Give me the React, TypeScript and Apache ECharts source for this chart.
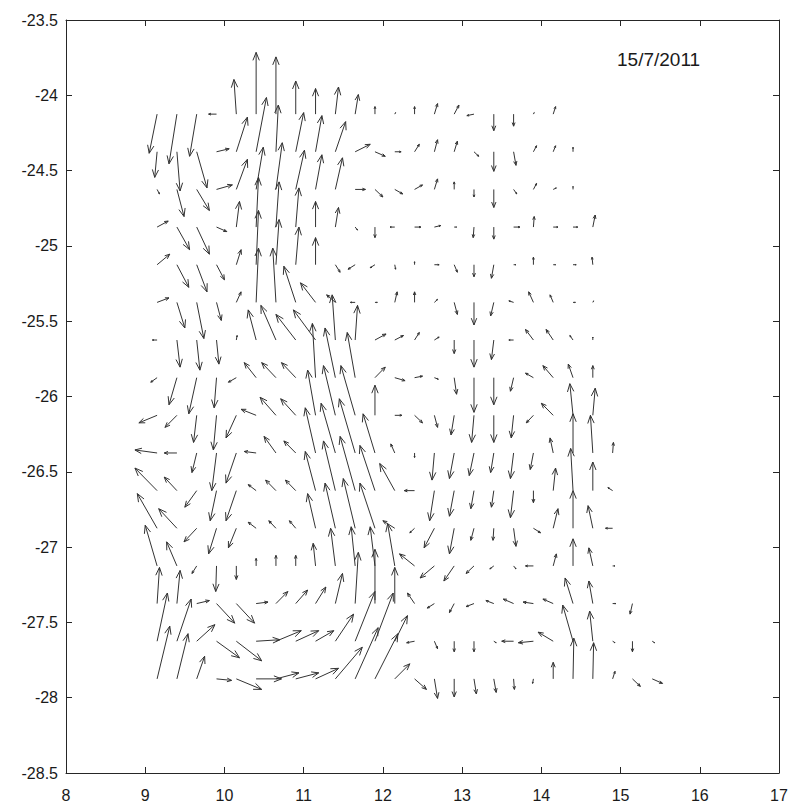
import React, { useEffect, useRef } from "react";
import * as echarts from "echarts";

// Grid of vector positions
const LON = [9.15, 9.4, 9.65, 9.9, 10.15, 10.4, 10.65, 10.9, 11.15, 11.4, 11.65, 11.9, 12.15, 12.4, 12.65, 12.9, 13.15, 13.4, 13.65, 13.9, 14.15, 14.4, 14.65, 14.9, 15.15, 15.4];
const LAT = [-24.125, -24.375, -24.625, -24.875, -25.125, -25.375, -25.625, -25.875, -26.125, -26.375, -26.625, -26.875, -27.125, -27.375, -27.625, -27.875];

// Eastward velocity component (cm/s), one row per latitude
const U_ROWS: (number | null)[][] = [
  [-10, -10, -9, -10, -3, 0, 0, 0, 0, 4, 4, 0, 1, 0, 4, 6, -9, 0, 0, 1, 3],
  [-3, 4, 13, 16, 14, 13, 3, 10, 8, 13, 19, 13, 8, 6, 4, 4, 6, 0, 3, 4, 3, 0],
  [3, 9, 16, 20, 14, 9, 8, 11, 8, 9, 13, 10, 10, 10, 4, 0, 0, 0, 4, 4, 4, 0],
  [14, 16, 16, 13, 4, 3, 4, 4, 0, 4, 3, 0, -6, 8, 8, 3, -1, 0, 8, 1, 6, 6, 3],
  [16, 15, 13, 10, 6, 3, 4, 4, 0, 6, -9, -6, 1, 0, 6, 4, 0, -3, 3, 0, 3, 4, -1],
  [15, 10, 9, 6, 6, 3, -4, -15, -19, -11, -6, 3, 3, 0, 4, 4, 0, -4, -6, -6, -4, 3, 1],
  [-6, 4, 4, 3, 1, -10, -19, -25, -28, -4, 3, 14, 11, 6, 6, 0, 0, -3, -6, -10, -9, -4, 0],
  [-8, -10, -10, -3, -10, -15, -18, -18, -4, -13, -10, 13, 13, 10, 5, 3, 0, 0, -4, -10, -13, -6, 0],
  [-23, -15, -4, -4, -13, -19, -20, -19, -10, -15, -18, 0, 9, 10, 4, -4, -3, 0, -3, -9, -15, -4, 3],
  [-28, -16, -6, -6, -13, -15, -15, -15, -13, -18, -20, -15, -5, 0, -3, -6, -6, -4, -4, -4, -4, 0, -3, 1],
  [-28, -16, -15, -8, -13, -10, -13, -13, -13, -15, -19, -19, -19, -13, -6, -6, -4, -3, -4, 0, 3, -3, 0, -6],
  [-25, -23, -16, -10, -10, -10, -9, -8, -10, -13, -15, -19, -15, -6, -13, -6, -4, -1, 3, 9, 6, 0, -6, -9],
  [-15, -13, -6, -1, 0, 0, 0, 0, -3, -6, -5, -6, -9, -19, -18, -13, -10, -5, 3, -10, 4, 0, -5, 3],
  [3, 4, 16, 23, 23, 15, 15, 15, 13, 9, 4, 0, 0, -9, -9, -6, -10, -10, -13, -13, -13, -10, -5, 4, -3],
  [13, 18, 23, 29, 32, 30, 32, 29, 23, 23, 25, 23, 16, -10, 4, 0, 0, 3, -15, -19, -19, -13, -4, 3, 0, 3],
  [16, 14, 10, 19, 32, 32, 29, 29, 29, 34, 29, 29, 19, 15, 4, 0, 3, 3, 1, -1, 0, 1, 1, 3, 10, 13],
];

// Northward velocity component (cm/s)
const V_ROWS: (number | null)[][] = [
  [-26, -33, -28, 0, 23, 41, 38, 22, 17, 18, 13, 5, 1, 5, 7, 6, -1, -11, -8, 1, 5],
  [-17, -26, -24, 2, 23, 36, 31, 26, 24, 20, 5, -3, 0, 5, 8, 7, -3, -13, -9, 4, 4, 3],
  [-3, -18, -14, 3, 20, 28, 31, 26, 23, 21, 0, -5, -3, 3, 7, 5, -5, -12, -3, 4, 1, 2],
  [4, -15, -18, -3, 17, 33, 30, 26, 17, 13, -2, -7, 0, 0, 1, 0, -7, -8, 0, 7, 0, 0, 8],
  [7, -15, -18, -10, 10, 36, 30, 25, 18, -5, -3, -2, -3, 2, 0, -5, -8, -9, 0, 5, 0, 0, 5],
  [3, -17, -24, -12, 7, 36, 36, 24, 13, 5, 0, 0, 7, 7, 2, -8, -15, -9, 1, 7, 5, 0, 1],
  [0, -18, -20, -16, 3, 20, 23, 17, 20, 30, 23, 4, 3, 5, 2, -9, -18, -13, 0, 7, 7, 3, 2],
  [-3, -18, -24, -20, -3, 10, 10, 10, 36, 33, 30, 7, -2, 1, -1, -11, -23, -18, -9, 3, 8, 9, 8],
  [-5, -8, -18, -23, -15, 4, 12, 11, 30, 33, 33, 20, 0, -5, -8, -13, -18, -18, -15, -5, 8, 21, 18],
  [2, 0, -13, -25, -20, 1, 11, 8, 30, 33, 36, 26, 6, -3, -18, -17, -15, -13, -17, -11, 10, 26, 25, 7],
  [15, 9, -11, -20, -20, 4, 7, 7, 26, 33, 36, 30, 18, 0, -20, -17, -12, -11, -18, -8, 15, 28, 19, 2],
  [23, 13, -9, -17, -13, 4, 5, 5, 23, 30, 33, 30, 5, -3, -13, -17, -8, -8, -12, -3, 13, 25, 15, 0],
  [27, 16, -5, -17, -9, 5, 7, 7, 15, 25, 26, 26, 28, 8, -8, -10, -5, -2, -2, 0, 8, 18, 12, 0],
  [24, 22, 2, -13, -13, 1, 8, 9, 11, 20, 34, 36, 24, 7, -3, -6, -2, 2, 3, 1, 3, 17, 15, 0, -7],
  [32, 28, 11, -11, -13, 1, 7, 7, 7, 18, 33, 32, 17, -1, -5, -7, -7, -1, 0, -1, 6, 24, 20, -1, -7, -1],
  [35, 30, 15, -1, -7, 0, 4, 4, 7, 21, 34, 30, 10, -7, -13, -12, -10, -9, -7, -3, 11, 27, 24, 5, -5, -3],
];

// Degrees of arrow length per cm/s
const SCALE = 0.01;

const X_TICKS = [8, 9, 10, 11, 12, 13, 14, 15, 16, 17];
const Y_RANGE = [-28.5, -23.5];
const DATE_LABEL = "15/7/2011";

function buildData() {
  const out: number[][] = [];
  for (let j = 0; j < LAT.length; j++) {
    for (let i = 0; i < LON.length; i++) {
      const u = U_ROWS[j][i];
      const v = V_ROWS[j][i];
      if (u == null || v == null) continue;
      out.push([LON[i], LAT[j], u, v]);
    }
  }
  return out;
}

export default function App() {
  const ref = useRef<HTMLDivElement>(null);
  useEffect(() => {
    if (!ref.current) return;
    const chart = echarts.init(ref.current, undefined, { renderer: "svg" });
    const lineColor = "#333333";
    const font = "'Liberation Sans', Arial, sans-serif";
    const axisCommon = {
      axisLine: { show: true, onZero: false, lineStyle: { color: "#262626", width: 1 } },
      axisTick: { show: true, inside: true, length: 6, lineStyle: { color: "#262626" } },
      splitLine: { show: false },
    };
    chart.setOption({
      animation: false,
      backgroundColor: "#ffffff",
      grid: { left: 66, top: 20, right: 18, bottom: 32, containLabel: false },
      xAxis: [
        {
          type: "value",
          min: X_TICKS[0],
          max: X_TICKS[X_TICKS.length - 1],
          interval: 1,
          position: "bottom",
          ...axisCommon,
          axisLabel: { color: "#1a1a1a", fontSize: 16, fontFamily: font, margin: 14 },
        },
        {
          type: "value",
          min: X_TICKS[0],
          max: X_TICKS[X_TICKS.length - 1],
          interval: 1,
          position: "top",
          ...axisCommon,
          axisLabel: { show: false },
        },
      ],
      yAxis: [
        {
          type: "value",
          min: Y_RANGE[0],
          max: Y_RANGE[1],
          interval: 0.5,
          position: "left",
          ...axisCommon,
          axisLabel: { color: "#1a1a1a", fontSize: 16, fontFamily: font, margin: 8, formatter: (v: number) => String(v) },
        },
        {
          type: "value",
          min: Y_RANGE[0],
          max: Y_RANGE[1],
          interval: 0.5,
          position: "right",
          ...axisCommon,
          axisLabel: { show: false },
        },
      ],
      graphic: [
        {
          type: "text",
          left: 617,
          top: 50,
          style: { text: DATE_LABEL, fill: "#1a1a1a", font: `19px ${font}` },
        },
      ],
      series: [
        {
          type: "custom",
          xAxisIndex: 0,
          yAxisIndex: 0,
          encode: { x: 0, y: 1 },
          data: buildData(),
          clip: false,
          renderItem: (params: any, api: any) => {
            const x = api.value(0);
            const y = api.value(1);
            const u = api.value(2);
            const v = api.value(3);
            const p0 = api.coord([x, y]);
            const p1 = api.coord([x + u * SCALE, y + v * SCALE]);
            const dx = p1[0] - p0[0];
            const dy = p1[1] - p0[1];
            const len = Math.hypot(dx, dy);
            if (len < 0.5) return null;
            const ux = dx / len;
            const uy = dy / len;
            const h = Math.min(len * 0.3, 8);
            const a = 0.4;
            const bx = p1[0] - ux * h;
            const by = p1[1] - uy * h;
            const l = [bx - uy * h * a, by + ux * h * a];
            const r = [bx + uy * h * a, by - ux * h * a];
            return {
              type: "group",
              children: [
                {
                  type: "line",
                  shape: { x1: p0[0], y1: p0[1], x2: p1[0], y2: p1[1] },
                  style: { stroke: lineColor, lineWidth: 1 },
                },
                {
                  type: "polyline",
                  shape: { points: [l, [p1[0], p1[1]], r] },
                  style: { stroke: lineColor, lineWidth: 1, fill: null },
                },
              ],
            };
          },
        },
      ],
    });
    return () => chart.dispose();
  }, []);
  return (
    <div
      ref={ref}
      style={{ position: "absolute", left: 0, top: 0, width: 797, height: 805, background: "#fff" }}
    />
  );
}
